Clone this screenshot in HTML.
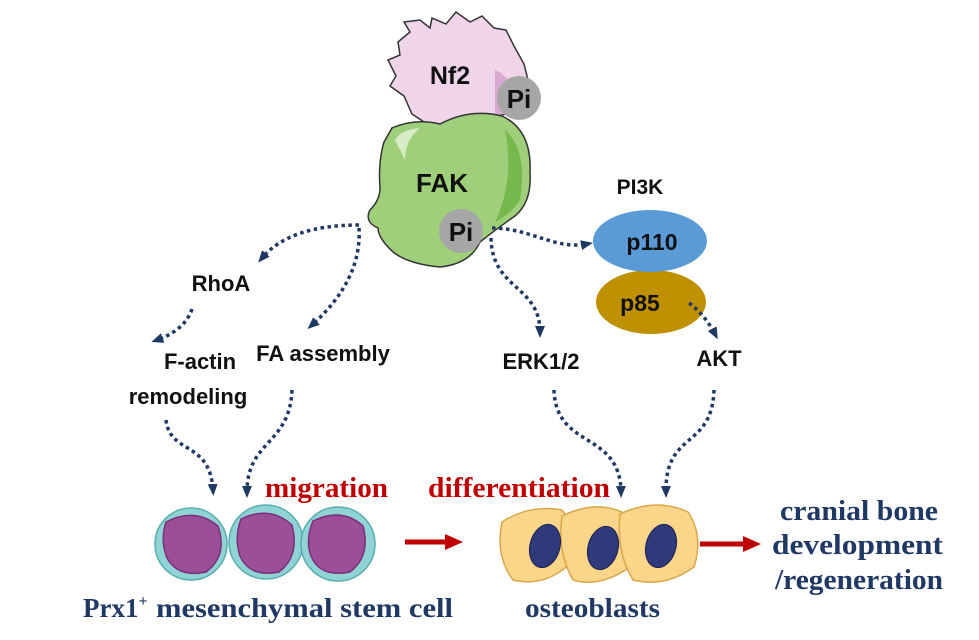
<!DOCTYPE html>
<html><head><meta charset="utf-8"><style>
html,body{margin:0;padding:0;background:#fff;}
svg{display:block;}
.s{font-family:"Liberation Sans",Arial,sans-serif;font-weight:bold;fill:#111;}
.r{font-family:"Liberation Serif","Times New Roman",serif;font-weight:bold;}
</style></head><body>
<svg width="979" height="640" viewBox="0 0 979 640" xmlns="http://www.w3.org/2000/svg">
<defs>
<marker id="a" markerWidth="12" markerHeight="12" refX="6" refY="6" orient="auto" markerUnits="userSpaceOnUse">
<path d="M0,1 L12,6 L0,11 Z" fill="#1f3864"/></marker>
<marker id="ra" markerWidth="18" markerHeight="18" refX="2" refY="9" orient="auto" markerUnits="userSpaceOnUse">
<path d="M0,1 L18,9 L0,17 Z" fill="#c00000"/></marker>
</defs>

<path d="M398,42 L410,32 L404,22 L420,20 L430,28 L432,18 L446,24 L456,12 L470,22 L482,16 L494,28 L506,30 L514,46 L524,64 L530,88 L518,104 L506,114 L480,120 L452,122 L430,126 L412,114 L404,96 L390,86 L396,76 L388,60 L400,55 Z" fill="#efd4ea" stroke="#333" stroke-width="1.5"/>
<path d="M495,70 Q518,80 512,112 L495,116 Z" fill="#d9a8cf"/>
<text x="450" y="84" class="s" font-size="25" text-anchor="middle">Nf2</text>
<circle cx="519" cy="98" r="22" fill="#a6a6a6"/>
<text x="519" y="108" class="s" font-size="26" text-anchor="middle">Pi</text>

<path d="M392,128 Q415,118 440,124 Q470,108 502,116 Q532,130 530,172 Q532,202 515,216 Q495,230 480,242 Q470,264 440,267 Q408,264 393,252 Q378,238 378,228 Q364,222 370,210 Q380,200 380,188 Q378,162 384,142 Z" fill="#9fcf7a" stroke="#333" stroke-width="1.5"/>
<path d="M505,130 Q528,150 520,200 Q510,215 495,222 Q515,180 505,130 Z" fill="#76b84c"/>
<path d="M395,140 Q400,130 420,128 Q405,140 405,160 Z" fill="#d6ecc4"/>
<text x="442" y="192" class="s" font-size="26" text-anchor="middle">FAK</text>
<circle cx="461" cy="231" r="22" fill="#a6a6a6"/>
<text x="461" y="241" class="s" font-size="26" text-anchor="middle">Pi</text>

<text x="640" y="194" class="s" font-size="21" text-anchor="middle">PI3K</text>
<ellipse cx="651" cy="302" rx="55" ry="32" fill="#bf9000"/>
<text x="640" y="311" class="s" font-size="23" text-anchor="middle">p85</text>
<ellipse cx="650" cy="241" rx="57" ry="31" fill="#5b9bd5"/>
<text x="652" y="250" class="s" font-size="23" text-anchor="middle">p110</text>

<text x="221" y="291" class="s" font-size="22" text-anchor="middle">RhoA</text>
<text x="200" y="369" class="s" font-size="22" text-anchor="middle">F-actin</text>
<text x="188" y="404" class="s" font-size="22" text-anchor="middle">remodeling</text>
<text x="323" y="361" class="s" font-size="22" text-anchor="middle">FA assembly</text>
<text x="541" y="369" class="s" font-size="22" text-anchor="middle">ERK1/2</text>
<text x="719" y="366" class="s" font-size="22" text-anchor="middle">AKT</text>

<g fill="none" stroke="#1f3864" stroke-width="3.5" stroke-dasharray="3.5 3.5">
<path d="M359,225 Q290,225 262,258" marker-end="url(#a)"/>
<path d="M359,228 Q362,280 312,325" marker-end="url(#a)"/>
<path d="M492,228 C530,228 555,250 587,244" marker-end="url(#a)"/>
<path d="M491,238 C492,290 540,285 540,332" marker-end="url(#a)"/>
<path d="M689,303 Q705,315 715,334" marker-end="url(#a)"/>
<path d="M192,309 Q185,330 157,340" marker-end="url(#a)"/>
<path d="M166,420 C170,455 210,440 213,490" marker-end="url(#a)"/>
<path d="M292,390 C290,445 247,440 247,492" marker-end="url(#a)"/>
<path d="M554,390 C556,450 620,430 621,492" marker-end="url(#a)"/>
<path d="M714,390 C712,450 665,430 666,492" marker-end="url(#a)"/>
</g>

<text x="265" y="497" class="r" font-size="28" fill="#c00000" textLength="123" lengthAdjust="spacingAndGlyphs">migration</text>
<text x="428" y="497" class="r" font-size="28" fill="#c00000" textLength="182" lengthAdjust="spacingAndGlyphs">differentiation</text>

<g stroke="#5aaeb0" stroke-width="1.5">
<circle cx="191" cy="544" r="36" fill="#8fd3d5"/>
<circle cx="266" cy="542" r="37" fill="#8fd3d5"/>
<circle cx="338" cy="544" r="37" fill="#8fd3d5"/>
</g>
<g fill="#9b4f96" stroke="#7a2f78" stroke-width="1.5">
<path d="M166,522 Q195,507 218,526 Q228,556 206,572 Q178,578 167,558 Q160,540 166,522 Z"/>
<path d="M241,519 Q270,505 292,525 Q300,556 279,572 Q250,578 240,556 Q234,538 241,519 Z"/>
<path d="M313,521 Q342,507 363,526 Q371,556 350,572 Q320,578 311,556 Q305,540 313,521 Z"/>
</g>

<line x1="405" y1="542" x2="447" y2="542" stroke="#c00000" stroke-width="5" marker-end="url(#ra)"/>
<line x1="700" y1="544" x2="745" y2="544" stroke="#c00000" stroke-width="5" marker-end="url(#ra)"/>

<g fill="#fbd58a" stroke="#d9a64a" stroke-width="1.5">
<path d="M502,522 Q530,504 562,510 Q578,530 572,562 Q545,588 513,580 Q495,556 502,522 Z"/>
<path d="M562,516 Q595,500 622,512 Q637,536 630,567 Q600,588 573,580 Q557,552 562,516 Z"/>
<path d="M620,514 Q656,497 688,512 Q704,536 694,567 Q665,588 633,580 Q616,552 620,514 Z"/>
</g>
<g fill="#2f3a7a" stroke="#1a2050" stroke-width="1">
<ellipse cx="545" cy="546" rx="15" ry="22" transform="rotate(15 545 546)"/>
<ellipse cx="603" cy="548" rx="15" ry="22" transform="rotate(15 603 548)"/>
<ellipse cx="661" cy="546" rx="15" ry="22" transform="rotate(15 661 546)"/>
</g>

<g class="r" font-size="28" fill="#1f3864">
<text x="780" y="520" textLength="158" lengthAdjust="spacingAndGlyphs">cranial bone</text>
<text x="772" y="554" textLength="171" lengthAdjust="spacingAndGlyphs">development</text>
<text x="775" y="589" textLength="168" lengthAdjust="spacingAndGlyphs">/regeneration</text>
</g>

<text x="83" y="617" class="r" font-size="27" fill="#1f3864">Prx1<tspan font-size="16" dy="-11">+</tspan></text>
<text x="156" y="617" class="r" font-size="27" fill="#1f3864" textLength="297" lengthAdjust="spacingAndGlyphs">mesenchymal stem cell</text>
<text x="525" y="617" class="r" font-size="27" fill="#1f3864" textLength="135" lengthAdjust="spacingAndGlyphs">osteoblasts</text>
</svg>
</body></html>
